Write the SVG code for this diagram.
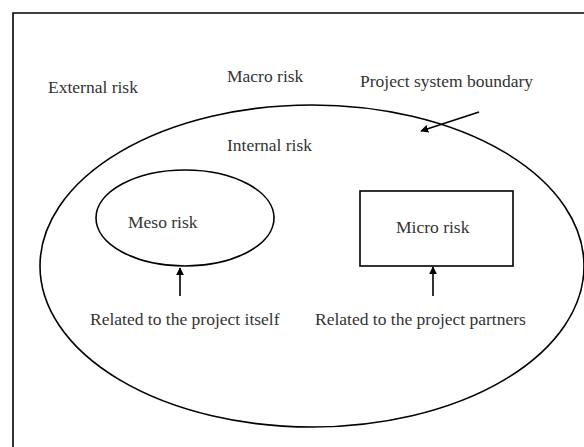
<svg xmlns="http://www.w3.org/2000/svg" width="584" height="447" viewBox="0 0 584 447">
<style>
text{font-family:"Liberation Serif","Times New Roman",serif;font-size:17.5px;fill:#333}
.ln{fill:none;stroke:#000;stroke-width:1.6}
</style>
<defs>
<marker id="ah" viewBox="0 0 10 10" refX="9" refY="5" markerWidth="8" markerHeight="8" markerUnits="userSpaceOnUse" orient="auto">
<path d="M0,0 L10,5 L0,10 z" fill="#000"/>
</marker>
</defs>
<rect width="584" height="447" fill="#fff"/>
<g id="frame"><path class="ln" d="M13,460 L13,13 L600,13"/></g>
<g id="boundary"><ellipse class="ln" cx="312" cy="266" rx="272" ry="161"/></g>
<g id="labels">
<text x="48" y="93">External risk</text>
<text x="227" y="82">Macro risk</text>
<text x="360" y="87">Project system boundary</text>
<text x="227" y="151">Internal risk</text>
</g>
<g id="meso"><ellipse class="ln" cx="185" cy="218" rx="89" ry="48"/><text x="128" y="228">Meso risk</text></g>
<g id="micro"><rect class="ln" x="360" y="191" width="153" height="75"/><text x="396" y="233">Micro risk</text></g>
<g id="notes">
<text x="90" y="325">Related to the project itself</text>
<text x="315" y="325">Related to the project partners</text>
</g>
<g id="connectors">
<line class="ln" x1="479" y1="112" x2="421" y2="131" marker-end="url(#ah)"/>
<line class="ln" x1="180" y1="296" x2="180" y2="268" marker-end="url(#ah)"/>
<line class="ln" x1="433" y1="296" x2="433" y2="267" marker-end="url(#ah)"/>
</g>
</svg>
